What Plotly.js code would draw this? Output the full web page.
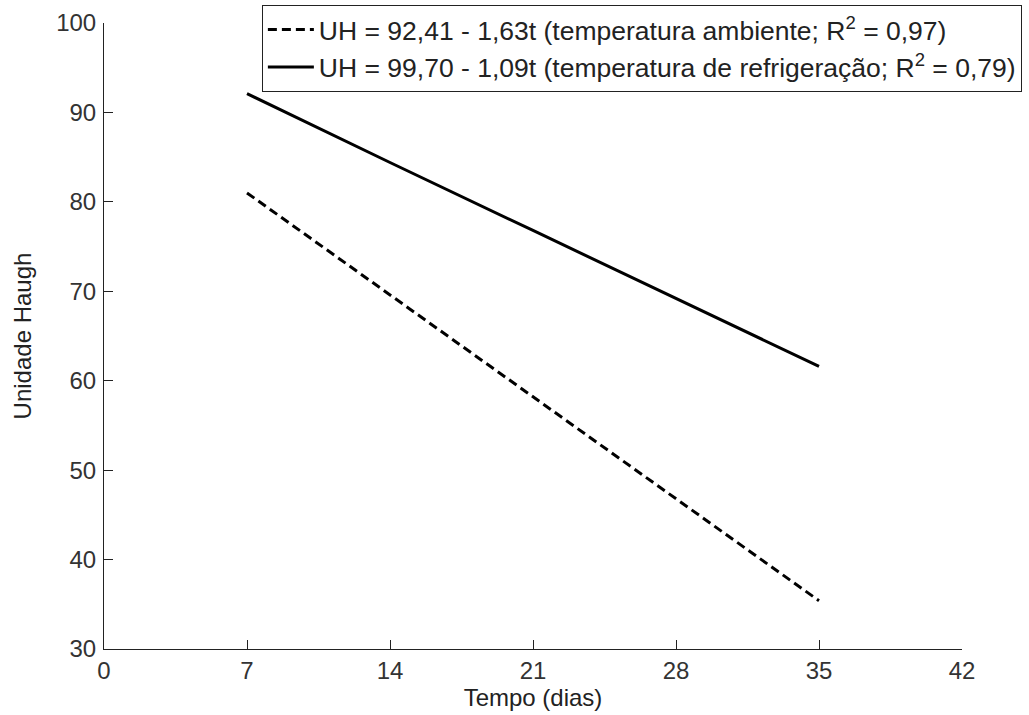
<!DOCTYPE html>
<html>
<head>
<meta charset="utf-8">
<script src="https://cdn.plot.ly/plotly-3.0.1.min.js"></script>
<style>html,body{margin:0;padding:0;background:#fff;}#chart{width:1029px;height:715px;}</style>
</head>
<body>
<div id="chart"></div>
<script>
var tempo = [7, 14, 21, 28, 35];
var uhAmbiente = [81.0, 69.6, 58.2, 46.8, 35.4];
var uhRefrigeracao = [92.1, 84.4, 76.8, 69.2, 61.6];
var nomeAmbiente = 'UH = 92,41 - 1,63t (temperatura ambiente; R<sup>2</sup> = 0,97)';
var nomeRefrigeracao = 'UH = 99,70 - 1,09t (temperatura de refrigeração; R<sup>2</sup> = 0,79)';
var xTicks = [0, 7, 14, 21, 28, 35, 42];
var yTicks = [30, 40, 50, 60, 70, 80, 90, 100];

var font = 'Liberation Sans, Arial, sans-serif';
var traces = [
  {x: tempo, y: uhAmbiente, mode: 'lines', name: nomeAmbiente,
   line: {color: '#000', width: 3, dash: '9px,5px'}},
  {x: tempo, y: uhRefrigeracao, mode: 'lines', name: nomeRefrigeracao,
   line: {color: '#000', width: 3}}
];
var axisCommon = {
  showgrid: false, zeroline: false, showline: true, linecolor: '#222', linewidth: 1,
  ticks: 'inside', ticklen: 9, tickwidth: 1, tickcolor: '#222',
  tickfont: {family: font, size: 24, color: '#333'}, mirror: false
};
var layout = {
  width: 1029, height: 715,
  margin: {l: 104, r: 67, t: 23, b: 66, autoexpand: false},
  paper_bgcolor: '#fff', plot_bgcolor: '#fff',
  showlegend: true,
  legend: {x: 0.184, y: 1.029, xanchor: 'left', yanchor: 'top',
           bordercolor: '#222', borderwidth: 1, bgcolor: '#fff', itemwidth: 46,
           font: {family: font, size: 26.5, color: '#222'}, tracegroupgap: 0},
  xaxis: Object.assign({}, axisCommon, {range: [0, 42], tickvals: xTicks,
    title: {text: 'Tempo (dias)', font: {family: font, size: 24, color: '#222'}, standoff: 0}}),
  yaxis: Object.assign({}, axisCommon, {range: [30, 100], tickvals: yTicks, ticklabelstandoff: 2,
    title: {text: 'Unidade Haugh', font: {family: font, size: 24, color: '#222'}, standoff: 17}})
};
Plotly.newPlot('chart', traces, layout, {displayModeBar: false, staticPlot: true});
</script>
</body>
</html>
